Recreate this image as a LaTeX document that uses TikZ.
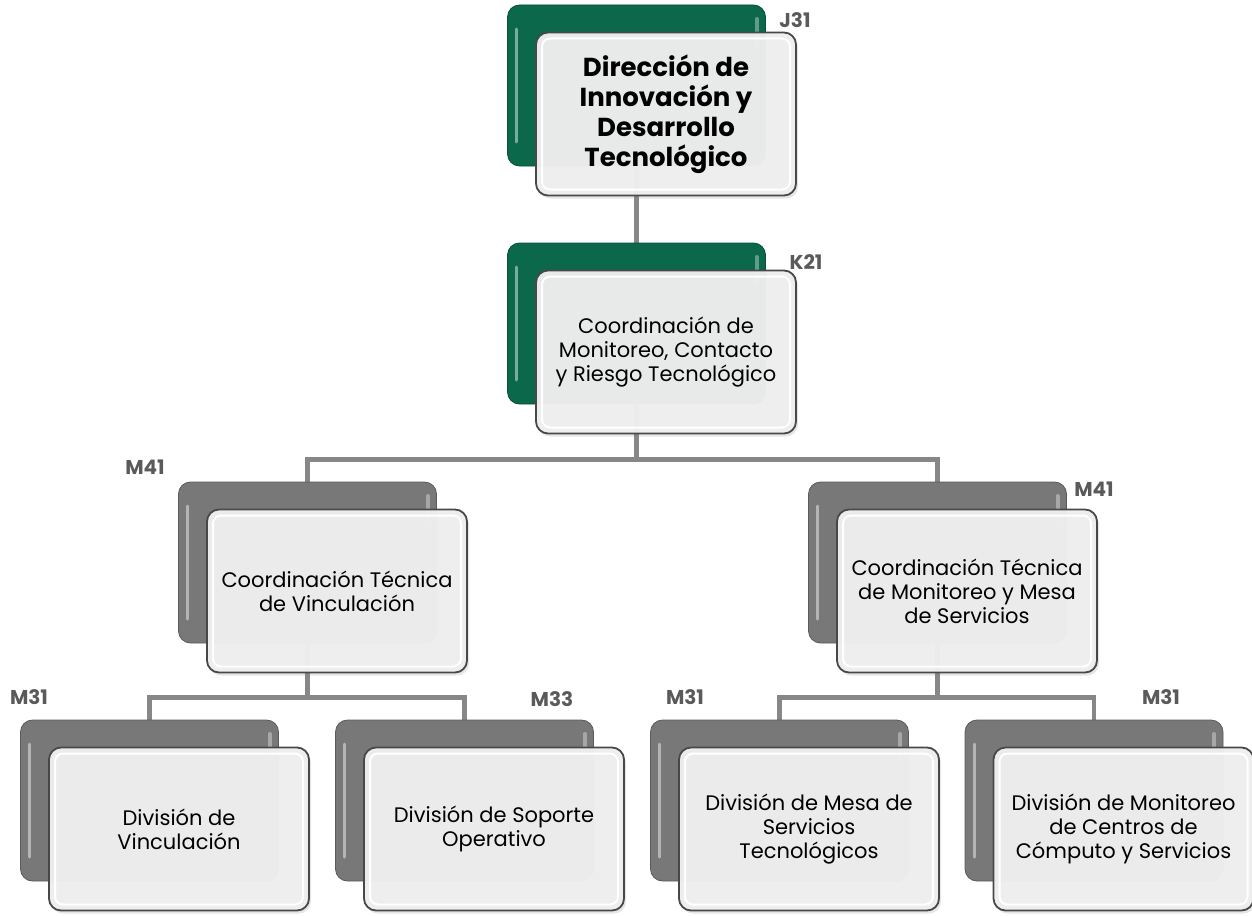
\documentclass[tikz,border=0pt]{standalone}
\usepackage{fontspec}
\setmainfont{Poppins}
\usepackage{tikz}
\usetikzlibrary{positioning, shadows, backgrounds}

\definecolor{dirgreen}{RGB}{12,104,75}
\definecolor{backgray}{RGB}{120,120,120}
\definecolor{facegray}{RGB}{239,239,239}
\definecolor{rimgray}{RGB}{72,72,72}
\definecolor{codegray}{RGB}{90,90,90}
\definecolor{linegray}{RGB}{135,135,135}

\begin{document}
\begin{tikzpicture}[
    x=1pt, y=-1pt,
    back/.style={rounded corners=12pt, minimum width=258pt, minimum height=161pt, inner sep=0pt,
        fill=#1, draw=#1!75!black, line width=0.8pt,
        path picture={
            \draw[white, opacity=0.45, line width=3pt, line cap=round]
                ([shift={(9pt,-24pt)}]path picture bounding box.north west) -- ([shift={(9pt,24pt)}]path picture bounding box.south west);
            \draw[white, opacity=0.35, line width=4pt, line cap=round]
                ([shift={(-9pt,-14pt)}]path picture bounding box.north east) -- ([shift={(-9pt,-40pt)}]path picture bounding box.north east);
        }},
    front/.style={rounded corners=12pt, minimum width=260pt, minimum height=163pt, inner sep=4pt, align=center,
        fill=facegray, fill opacity=0.97, text opacity=1, draw=rimgray, line width=1.8pt,
        font=\fontsize{21}{24}\selectfont,
        drop shadow={shadow xshift=2pt, shadow yshift=-3pt, opacity=0.2},
        path picture={
            \draw[white, line width=2pt, rounded corners=8pt]
                ([shift={(6pt,-6pt)}]path picture bounding box.north west) rectangle ([shift={(-6pt,6pt)}]path picture bounding box.south east);
        }},
    title/.style={font=\bfseries\fontsize{26}{30}\selectfont},
    code/.style={font=\bfseries\fontsize{20}{22}\selectfont, text=codegray},
    conn/.style={line width=4.5pt, draw=linegray}
]
    \useasboundingbox (0,0) rectangle (1252,915);

    % back plates
    \node[back=dirgreen] (dirb) at (636.5,85.5) {};
    \node[back=dirgreen] (k21b) at (636.5,323.5) {};
    \node[back=backgray] (vincb) at (307.5,562.5) {};
    \node[back=backgray] (mesab) at (937.5,562.5) {};
    \node[back=backgray] (divvb) at (149.5,800.5) {};
    \node[back=backgray] (divsb) at (464.5,800.5) {};
    \node[back=backgray] (divmb) at (779.5,800.5) {};
    \node[back=backgray] (divcb) at (1094,800.5) {};

    % connectors
    \begin{pgfonlayer}{background}
        \draw[conn] (dirb.south) -- (k21b.north);
        \draw[conn] (k21b.south) -- ++(0,55) coordinate (k21bus);
        \draw[conn] (vincb.north) |- (k21bus) -| (mesab.north);
        \draw[conn] (vincb.south) -- ++(0,54) coordinate (vincbus);
        \draw[conn] (divvb.north) |- (vincbus) -| (divsb.north);
        \draw[conn] (mesab.south) -- ++(0,54) coordinate (mesabus);
        \draw[conn] (divmb.north) |- (mesabus) -| (divcb.north);
    \end{pgfonlayer}

    % front plates
    \node[front, title, anchor=north west] (dir) at ([shift={(28pt,-27pt)}]dirb.north west) {Dirección de\\Innovación y\\Desarrollo\\Tecnológico};
    \node[front, anchor=north west] (k21) at ([shift={(28pt,-27pt)}]k21b.north west) {Coordinación de\\Monitoreo, Contacto\\y Riesgo Tecnológico};
    \node[front, anchor=north west] (vinc) at ([shift={(28pt,-27pt)}]vincb.north west) {Coordinación Técnica\\de Vinculación};
    \node[front, anchor=north west] (mesa) at ([shift={(28pt,-27pt)}]mesab.north west) {Coordinación Técnica\\de Monitoreo y Mesa\\de Servicios};
    \node[front, anchor=north west] (divv) at ([shift={(28pt,-27pt)}]divvb.north west) {División de\\Vinculación};
    \node[front, anchor=north west] (divs) at ([shift={(28pt,-27pt)}]divsb.north west) {División de Soporte\\Operativo};
    \node[front, anchor=north west] (divm) at ([shift={(28pt,-27pt)}]divmb.north west) {División de Mesa de\\Servicios\\Tecnológicos};
    \node[front, anchor=north west] (divc) at ([shift={(28pt,-27pt)}]divcb.north west) {División de Monitoreo\\de Centros de\\Cómputo y Servicios};

    % level codes
    \node[code] (dircode) at (795,20) {J31};
    \node[code] (k21code) at (806,262) {K21};
    \node[code] (vinccode) at (145,467) {M41};
    \node[code] (mesacode) at (1094,489) {M41};
    \node[code] (divvcode) at (29,697) {M31};
    \node[code] (divscode) at (552,699) {M33};
    \node[code] (divmcode) at (685,697) {M31};
    \node[code] (divccode) at (1161,697) {M31};
\end{tikzpicture}
\end{document}
